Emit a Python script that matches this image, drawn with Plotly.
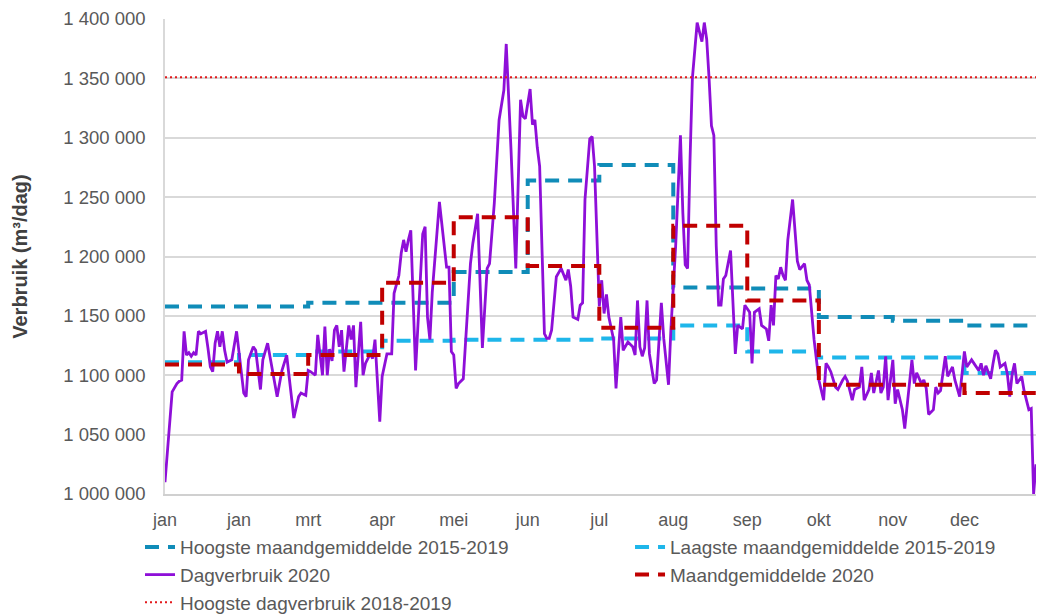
import plotly.graph_objects as go

# ---------------- data ----------------
maand_labels = ["jan", "jan", "mrt", "apr", "mei", "jun", "jul", "aug", "sep", "okt", "nov", "dec"]
maand_start = [0, 31, 60, 91, 121, 152, 182, 213, 244, 274, 305, 335]
jaar_einde = 365

# monthly values (m3/dag)
hoogste_maand_2015_2019 = [1158000, 1158000, 1161000, 1161000, 1187000, 1264000,
                           1277000, 1174000, 1173000, 1149000, 1146000, 1142000]
laagste_maand_2015_2019 = [1111000, 1117000, 1120000, 1129000, 1130000, 1130000,
                           1131000, 1142000, 1120000, 1115000, 1115000, 1102000]
maandgemiddelde_2020 = [1109000, 1101000, 1117000, 1178000, 1233000, 1192000,
                        1140000, 1226000, 1163000, 1092000, 1092000, 1085000]
hoogste_dag_2018_2019 = 1351000

# daily consumption 2020 (day index, value in 1000 m3/dag)
dag = [0, 3, 5, 6, 7, 8, 9, 10, 11, 12, 13, 14, 15, 17, 18, 19, 20, 21, 22, 23, 24, 25, 26, 28, 30,
       31, 32, 33, 34, 35, 37, 38, 40, 41, 43, 44, 45, 47, 49, 51, 52, 54, 56, 57, 59,
       60, 61, 63, 64, 65, 66, 67, 68, 69, 70, 71, 72, 73, 74, 75, 77, 78, 79, 80, 82, 83, 84, 86, 87, 88, 90,
       91, 93, 95, 96, 98, 99, 100, 101, 102, 103, 105, 108, 109, 110, 111, 112, 115, 118, 119, 120,
       121, 122, 123, 125, 128, 129, 131, 133, 135, 136, 138, 140, 142, 143, 145, 147, 149, 150, 151,
       153, 154, 155, 156, 157, 159, 160, 161, 162, 164, 166, 168, 169, 170, 171, 173, 174, 175, 176, 178,
       179, 180, 182, 183, 184, 185, 186, 188, 189, 191, 192, 194, 196, 197, 198, 199, 200, 201, 202, 203,
       205, 206, 208, 209, 211, 212, 214, 216, 217, 218, 219, 220, 221, 223, 224, 225, 226, 227, 228, 229,
       230, 231, 232, 233, 234, 235, 237, 239, 240, 242, 243, 245, 246, 247, 249, 250, 252, 253, 254, 255,
       256, 257, 258, 259, 260, 261, 263, 265, 266, 268, 269, 270, 272, 273, 274, 276, 277, 278, 279, 281,
       282, 284, 285, 286, 288, 289, 291, 292, 293, 295, 296, 297, 299, 300, 301, 302, 303, 305, 306, 307,
       309, 310, 313, 314, 315, 317, 318, 319, 320, 322, 323, 324, 325, 327, 328, 330, 331, 333, 334, 335,
       336, 338, 339, 341, 342, 343, 344, 346, 347, 348, 349, 350, 352, 353, 354, 355, 356, 357, 359, 360,
       362, 363, 364, 365]
verbruik_k = [1010, 1086, 1093, 1095, 1096, 1137, 1117, 1119, 1116, 1119, 1117, 1137, 1135, 1137, 1123, 1107, 1103, 1127, 1137, 1124, 1137, 1121, 1111, 1113, 1137,
              1118, 1103, 1085, 1082, 1113, 1124, 1121, 1088, 1113, 1127, 1115, 1104, 1082, 1104, 1117, 1099, 1064, 1082, 1085, 1083,
              1104, 1103, 1100, 1134, 1118, 1100, 1141, 1100, 1122, 1112, 1138, 1142, 1124, 1138, 1103, 1142, 1130, 1142, 1090, 1145, 1100, 1110, 1118, 1114, 1130, 1061,
              1099, 1118, 1118, 1169, 1184, 1203, 1214, 1204, 1214, 1222, 1104, 1219, 1225, 1149, 1130, 1170, 1246, 1191, 1191, 1120,
              1117, 1089, 1093, 1097, 1194, 1211, 1236, 1123, 1190, 1194, 1245, 1315, 1340, 1379, 1290, 1190, 1332, 1318, 1316,
              1341, 1311, 1315, 1292, 1276, 1135, 1131, 1131, 1138, 1183, 1190, 1180, 1189, 1175, 1149, 1147, 1159, 1161, 1248, 1299,
              1301, 1276, 1158, 1180, 1152, 1168, 1149, 1130, 1089, 1149, 1121, 1128, 1124, 1117, 1163, 1124, 1116, 1123, 1163, 1118,
              1093, 1096, 1161, 1131, 1092, 1139, 1209, 1302, 1237, 1193, 1190, 1280, 1350, 1397, 1389, 1381, 1397, 1383, 1350, 1310,
              1302, 1209, 1159, 1159, 1181, 1184, 1205, 1118, 1142, 1139, 1159, 1153, 1110, 1153, 1156, 1142, 1139, 1129, 1159, 1142,
              1184, 1181, 1191, 1184, 1180, 1214, 1248, 1196, 1189, 1194, 1180, 1176, 1130, 1110, 1096, 1079, 1110, 1107, 1103, 1090,
              1088, 1096, 1099, 1095, 1079, 1088, 1090, 1107, 1079, 1088, 1102, 1085, 1104, 1085, 1090, 1116, 1079, 1113, 1076, 1088,
              1071, 1055, 1113, 1093, 1102, 1093, 1096, 1089, 1067, 1071, 1090, 1085, 1087, 1116, 1099, 1107, 1096, 1082, 1104, 1120,
              1107, 1113, 1110, 1104, 1110, 1100, 1108, 1097, 1110, 1121, 1118, 1107, 1110, 1101, 1082, 1101, 1110, 1093, 1099, 1087,
              1071, 1072, 1000, 1025]

verbruik = [v * 1000 for v in verbruik_k]

# ---------------- figure ----------------
FONT = "Liberation Sans, Arial, sans-serif"
GREY = "#595959"

step_x = maand_start + [jaar_einde]


def step_y(vals):
    return vals + [vals[-1]]


fig = go.Figure()

fig.add_trace(go.Scatter(
    x=step_x, y=step_y(hoogste_maand_2015_2019), mode="lines", line_shape="hv",
    name="Hoogste maandgemiddelde 2015-2019", legend="legend", legendgroup="a",
    line=dict(color="#108CB8", width=4, dash="14px,9px")))

fig.add_trace(go.Scatter(
    x=step_x, y=step_y(laagste_maand_2015_2019), mode="lines", line_shape="hv",
    name="Laagste maandgemiddelde 2015-2019", legend="legend2", legendgroup="b",
    line=dict(color="#1EB6EA", width=4, dash="14px,9px")))

fig.add_trace(go.Scatter(
    x=dag, y=verbruik, mode="lines",
    name="Dagverbruik 2020", legend="legend", legendgroup="c",
    line=dict(color="#8E0FD8", width=2.8)))

fig.add_trace(go.Scatter(
    x=step_x, y=step_y(maandgemiddelde_2020), mode="lines", line_shape="hv",
    name="Maandgemiddelde 2020", legend="legend2", legendgroup="d",
    line=dict(color="#C00000", width=4, dash="14px,9px")))

fig.add_trace(go.Scatter(
    x=[0, jaar_einde], y=[hoogste_dag_2018_2019, hoogste_dag_2018_2019], mode="lines",
    name="Hoogste dagverbruik 2018-2019", legend="legend", legendgroup="e",
    line=dict(color="#E31A1C", width=2, dash="2px,3px")))

legend_common = dict(
    orientation="v", yanchor="top", xanchor="left",
    font=dict(family=FONT, size=19, color=GREY),
    bgcolor="rgba(0,0,0,0)", traceorder="normal", tracegroupgap=0,
)

fig.update_layout(
    width=1038, height=614,
    margin=dict(l=165, r=2, t=19, b=120, autoexpand=False),
    paper_bgcolor="white", plot_bgcolor="white",
    separators=", ",
    font=dict(family=FONT, size=18, color=GREY),
    showlegend=True,
    legend=dict(x=-0.0287, y=-0.0717, **legend_common),
    legend2=dict(x=0.5339, y=-0.0717, **legend_common),
)

fig.update_xaxes(
    range=[0, jaar_einde],
    tickvals=maand_start, ticktext=maand_labels,
    showgrid=False, zeroline=False,
    showline=True, linecolor="#D0D0D0", linewidth=2,
    ticks="", ticklabelstandoff=8, automargin=False,
    tickfont=dict(family=FONT, size=18, color=GREY),
)

fig.update_yaxes(
    range=[1000000, 1400000], dtick=50000, tickformat=",d",
    showgrid=True, gridcolor="#D9D9D9", gridwidth=1.5,
    zeroline=False, automargin=False,
    showline=True, linecolor="#D9D9D9", linewidth=1.5,
    ticks="", ticklabelstandoff=14,
    tickfont=dict(family=FONT, size=18.5, color=GREY),
    title=dict(text="Verbruik (m³/dag)", standoff=30,
               font=dict(family=FONT, size=20, color="#404040", weight="bold")),
)

# remove the default 8px page margin so the figure fills the window exactly
fig.write_html("out.html",
               config={"displayModeBar": False},
               post_script="document.body.style.margin='0';document.body.style.overflow='hidden';")
